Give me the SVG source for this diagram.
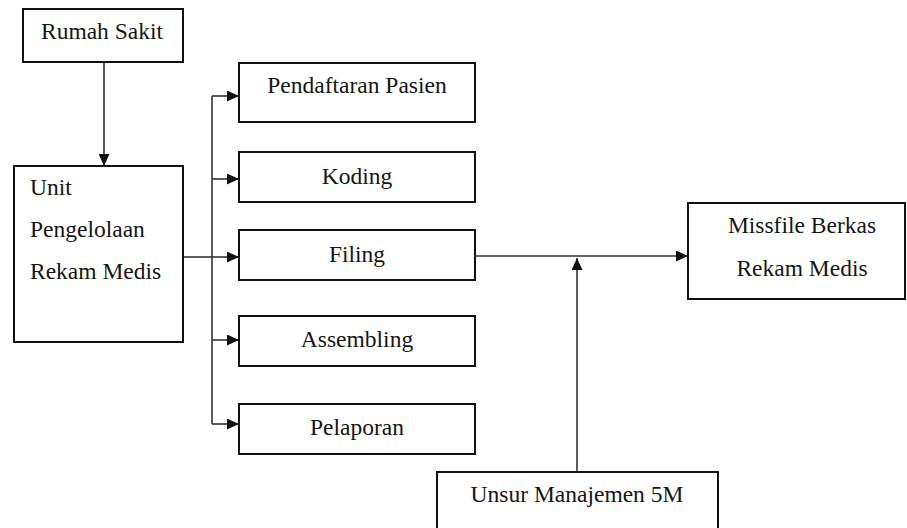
<svg xmlns="http://www.w3.org/2000/svg" width="907" height="528" viewBox="0 0 907 528">
<style>
.box{fill:#fff;stroke:#111;stroke-width:2}
.c{text-anchor:middle}
.ln{fill:none;stroke:#333;stroke-width:1.6}
text{font-family:"Times New Roman","Liberation Serif","DejaVu Serif","Noto Serif",Times,serif;font-size:23.5px;fill:#151515}
</style>
<defs>
<marker id="ah" markerUnits="userSpaceOnUse" markerWidth="12" markerHeight="11" refX="12" refY="5.5" orient="auto">
<path d="M0,0 L12,5.5 L0,11 z" fill="#111"/>
</marker>
</defs>
<rect width="907" height="528" fill="#fff"/>
<g id="connectors">
<path class="ln" d="M104,62 V166" marker-end="url(#ah)"/>
<path class="ln" d="M183,257 H212"/>
<path class="ln" d="M212,96 V424"/>
<path class="ln" d="M212,96 H239" marker-end="url(#ah)"/>
<path class="ln" d="M212,179 H239" marker-end="url(#ah)"/>
<path class="ln" d="M212,257 H239" marker-end="url(#ah)"/>
<path class="ln" d="M212,340 H239" marker-end="url(#ah)"/>
<path class="ln" d="M212,424 H239" marker-end="url(#ah)"/>
<path class="ln" d="M475,256 H688" marker-end="url(#ah)"/>
<path class="ln" d="M577,472 V258" marker-end="url(#ah)"/>
</g>
<g id="rumah-sakit">
<rect class="box" x="23" y="9" width="160" height="53"/>
<text class="c" x="102" y="39">Rumah Sakit</text>
</g>
<g id="unit">
<rect class="box" x="14" y="166" width="169" height="176"/>
<text x="30" y="195">Unit</text>
<text x="30" y="237">Pengelolaan</text>
<text x="30" y="279">Rekam Medis</text>
</g>
<g id="pendaftaran">
<rect class="box" x="239" y="63" width="236" height="59"/>
<text class="c" x="357" y="93">Pendaftaran Pasien</text>
</g>
<g id="koding">
<rect class="box" x="239" y="152" width="236" height="50"/>
<text class="c" x="357" y="184">Koding</text>
</g>
<g id="filing">
<rect class="box" x="239" y="230" width="236" height="50"/>
<text class="c" x="357" y="262">Filing</text>
</g>
<g id="assembling">
<rect class="box" x="239" y="316" width="236" height="50"/>
<text class="c" x="357" y="347">Assembling</text>
</g>
<g id="pelaporan">
<rect class="box" x="239" y="404" width="236" height="50"/>
<text class="c" x="357" y="435">Pelaporan</text>
</g>
<g id="missfile">
<rect class="box" x="688" y="203" width="217" height="96"/>
<text class="c" x="802" y="233">Missfile Berkas</text>
<text class="c" x="802" y="276">Rekam Medis</text>
</g>
<g id="unsur">
<rect class="box" x="437" y="472" width="281" height="70"/>
<text class="c" x="577" y="502">Unsur Manajemen 5M</text>
</g>
</svg>
